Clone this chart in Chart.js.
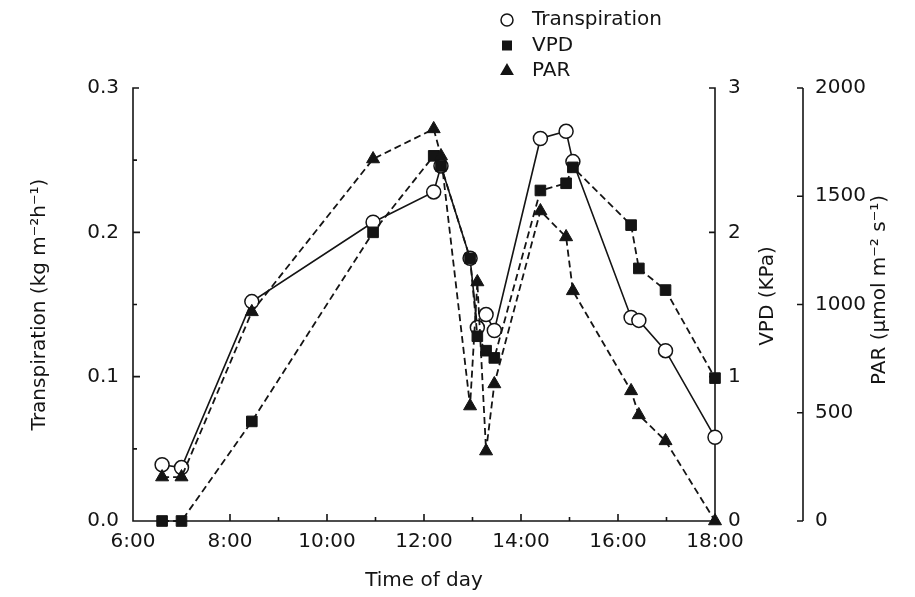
<!DOCTYPE html>
<html>
<head>
<meta charset="utf-8">
<script src="https://cdn.jsdelivr.net/npm/chart.js@4.4.1/dist/chart.umd.min.js"></script>
<style>
  html, body { margin: 0; padding: 0; background: #fff; }
  #wrap { width: 915px; height: 597px; }
</style>
</head>
<body>
<div id="wrap"><canvas id="transpChart" width="915" height="597"></canvas></div>
<script>
'use strict';

// sampling times, decimal hours
const times = [6.6, 7.0, 8.45, 10.95, 12.2, 12.35, 12.95, 13.1, 13.28, 13.45, 14.4, 14.93, 15.07, 16.27, 16.43, 16.98, 18.0];
// kg m-2 h-1
const transpiration = [0.039, 0.037, 0.152, 0.207, 0.228, 0.246, 0.182, 0.134, 0.143, 0.132, 0.265, 0.270, 0.249, 0.141, 0.139, 0.118, 0.058];
// kPa
const vpd = [0, 0, 0.69, 2.0, 2.53, 2.46, 1.82, 1.28, 1.18, 1.13, 2.29, 2.34, 2.45, 2.05, 1.75, 1.60, 0.99];
// umol m-2 s-1
const par = [203, 203, 966, 1672, 1811, 1686, 531, 1104, 323, 633, 1432, 1312, 1063, 601, 490, 370, 0];

const hourLabels = ['6:00', '8:00', '10:00', '12:00', '14:00', '16:00', '18:00'];
const transpTicks = [0, 0.1, 0.2, 0.3];
const vpdTicks = [0, 1, 2, 3];
const parTicks = [0, 500, 1000, 1500, 2000];

const FONT = "'DejaVu Sans', sans-serif";
const INK = '#141414';

const pairs = vals => times.map((t, i) => ({ x: t, y: vals[i] }));
const fixedTicks = list => scale => { scale.ticks = list.map(v => ({ value: v })); };

const legendItems = [
  { text: 'Transpiration', style: 'circle', fill: '#fff', radius: 6 },
  { text: 'VPD', style: 'rect', fill: INK, radius: 6 },
  { text: 'PAR', style: 'triangle', fill: INK, radius: 6.5 },
];

// axis lines and inward tick marks, plus right-hand titles and the legend
const axisFrame = {
  id: 'axisFrame',
  beforeDatasetsDraw(chart) {
    const { ctx, chartArea: a, scales } = chart;
    const { x, y, yVpd, yPar } = scales;
    ctx.save();
    ctx.strokeStyle = INK;
    ctx.lineWidth = 1.6;
    ctx.beginPath();
    // left + bottom
    ctx.moveTo(a.left + 6, a.top);
    ctx.lineTo(a.left, a.top);
    ctx.lineTo(a.left, a.bottom);
    ctx.lineTo(a.right, a.bottom);
    transpTicks.forEach((v, i) => {
      const py = y.getPixelForValue(v);
      if (i > 0 && i < transpTicks.length - 1) { ctx.moveTo(a.left, py); ctx.lineTo(a.left + 7, py); }
      if (i > 0) {
        const my = y.getPixelForValue((v + transpTicks[i - 1]) / 2);
        ctx.moveTo(a.left, my); ctx.lineTo(a.left + 4, my);
      }
    });
    x.ticks.forEach(t => {
      if (t.value <= x.min || t.value >= x.max) return;
      const px = x.getPixelForValue(t.value);
      const len = t.value % 2 === 0 ? 7 : 4;
      ctx.moveTo(px, a.bottom); ctx.lineTo(px, a.bottom - len);
    });
    // VPD axis on the right edge of the plot
    ctx.moveTo(a.right - 6, a.top);
    ctx.lineTo(a.right, a.top);
    ctx.lineTo(a.right, a.bottom);
    vpdTicks.forEach(v => {
      const py = yVpd.getPixelForValue(v);
      ctx.moveTo(a.right, py); ctx.lineTo(a.right - 6, py);
    });
    // detached PAR axis
    const px = yPar.left;
    ctx.moveTo(px, yPar.getPixelForValue(parTicks[parTicks.length - 1]));
    ctx.lineTo(px, yPar.getPixelForValue(parTicks[0]));
    parTicks.forEach(v => {
      const py = yPar.getPixelForValue(v);
      ctx.moveTo(px, py); ctx.lineTo(px - 6, py);
    });
    ctx.stroke();
    ctx.restore();
  },
  afterDraw(chart) {
    const { ctx, scales } = chart;
    ctx.save();
    ctx.fillStyle = INK;
    ctx.font = `20px ${FONT}`;
    ctx.textAlign = 'center';
    ctx.textBaseline = 'middle';
    const sideTitle = (text, cx, cy) => {
      ctx.save();
      ctx.translate(cx, cy);
      ctx.rotate(-Math.PI / 2);
      ctx.fillText(text, 0, 0);
      ctx.restore();
    };
    sideTitle('VPD (KPa)', scales.yVpd.left + 53, 296);
    sideTitle('PAR (\u03bcmol m\u207b\u00b2 s\u207b\u00b9)', scales.yPar.left + 77, 290);

    // legend
    ctx.textAlign = 'left';
    legendItems.forEach((item, i) => {
      const ly = 20 + i * 25.5;
      ctx.fillStyle = item.fill;
      ctx.strokeStyle = INK;
      ctx.lineWidth = 1.5;
      Chart.helpers.drawPoint(ctx, { pointStyle: item.style, radius: item.radius, borderWidth: 1.5, rotation: 0 }, 507, ly);
      ctx.fillStyle = INK;
      ctx.fillText(item.text, 532, ly);
    });
    ctx.restore();
  },
};

const tickFont = { family: FONT, size: 20 };

new Chart(document.getElementById('transpChart'), {
  type: 'line',
  data: {
    datasets: [
      {
        label: 'PAR',
        data: pairs(par),
        yAxisID: 'yPar',
        borderColor: INK,
        borderWidth: 1.8,
        borderDash: [7, 4],
        pointStyle: 'triangle',
        pointRadius: 7.5,
        pointBackgroundColor: INK,
        pointBorderColor: INK,
        pointBorderWidth: 1,
        tension: 0,
        clip: false,
      },
      {
        label: 'VPD',
        data: pairs(vpd),
        yAxisID: 'yVpd',
        borderColor: INK,
        borderWidth: 1.8,
        borderDash: [7, 4],
        pointStyle: 'rect',
        pointRadius: 7.5,
        pointBackgroundColor: INK,
        pointBorderColor: INK,
        pointBorderWidth: 1,
        tension: 0,
        clip: false,
      },
      {
        label: 'Transpiration',
        data: pairs(transpiration),
        yAxisID: 'y',
        borderColor: INK,
        borderWidth: 1.6,
        pointStyle: 'circle',
        pointRadius: 7,
        pointBackgroundColor: '#fff',
        pointBorderColor: INK,
        pointBorderWidth: 1.5,
        tension: 0,
        clip: false,
      },
    ],
  },
  options: {
    responsive: false,
    animation: false,
    devicePixelRatio: 1,
    layout: { padding: { top: 88, right: 0, bottom: 0, left: 0 } },
    plugins: { legend: { display: false }, tooltip: { enabled: false } },
    scales: {
      x: {
        type: 'linear',
        min: 6, max: 18,
        grid: { display: false, drawTicks: false },
        border: { display: false },
        ticks: {
          stepSize: 1, autoSkip: false, maxRotation: 0, padding: 9,
          color: INK, font: tickFont,
          callback: v => (v % 2 === 0 ? hourLabels[(v - 6) / 2] : ''),
        },
        title: { display: true, text: 'Time of day', color: INK, font: tickFont, padding: { top: 0, bottom: 4 } },
        afterFit: s => { s.height = 76; },
      },
      y: {
        position: 'left',
        min: 0, max: 0.3,
        afterBuildTicks: fixedTicks(transpTicks),
        grid: { display: false, drawTicks: false },
        border: { display: false },
        ticks: { padding: 14, color: INK, font: tickFont, callback: v => v.toFixed(1) },
        title: {
          display: true, text: 'Transpiration (kg m\u207b\u00b2h\u207b\u00b9)',
          color: INK, font: tickFont, padding: { top: 28, bottom: 0 },
        },
        afterFit: s => { s.width = 133; },
      },
      yVpd: {
        position: 'right',
        weight: 0,
        min: 0, max: 3,
        afterBuildTicks: fixedTicks(vpdTicks),
        grid: { display: false, drawTicks: false },
        border: { display: false },
        ticks: { padding: 13, color: INK, font: tickFont, callback: v => String(v) },
        afterFit: s => { s.width = 88; },
      },
      yPar: {
        position: 'right',
        weight: 1,
        min: 0, max: 2000,
        afterBuildTicks: fixedTicks(parTicks),
        grid: { display: false, drawTicks: false },
        border: { display: false },
        ticks: { padding: 12, color: INK, font: tickFont, callback: v => String(v) },
        afterFit: s => { s.width = 112; },
      },
    },
  },
  plugins: [axisFrame],
});
</script>
</body>
</html>
